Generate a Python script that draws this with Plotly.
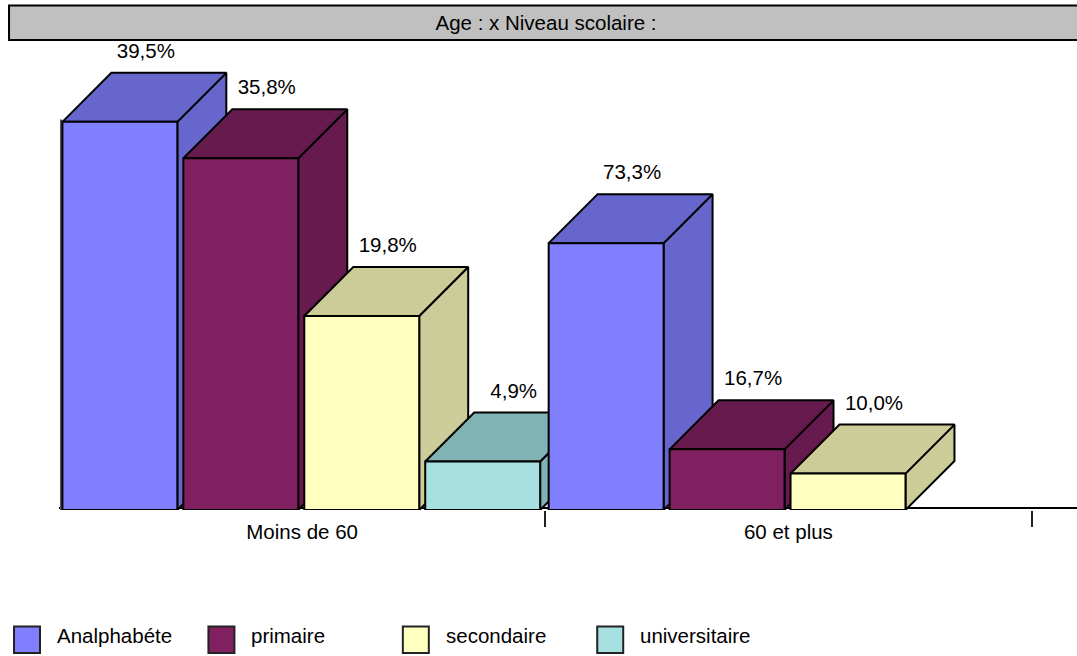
import plotly.graph_objects as go

W, H = 1077, 656

# Data (bar heights are respondent counts, labels are shares within each age group)
age_groups = ["Moins de 60", "60 et plus"]
levels = ["Analphabéte", "primaire", "secondaire", "universitaire"]
analphabete = [32, 22]
primaire = [29, 5]
secondaire = [16, 3]
universitaire = [4, 0]
analphabete_labels = ["39,5%", "73,3%"]
primaire_labels = ["35,8%", "16,7%"]
secondaire_labels = ["19,8%", "10,0%"]
universitaire_labels = ["4,9%", ""]
title_text = "Age : x Niveau scolaire :"

series = [analphabete, primaire, secondaire, universitaire]
series_labels = [analphabete_labels, primaire_labels, secondaire_labels, universitaire_labels]
front_colors = ["#8080FF", "#802060", "#FFFFC0", "#A6E0E0"]
shade_colors = ["#6666CC", "#661A4D", "#CCCC99", "#80B3B3"]
label_nudge_px = [0, 0, 0, 5]

# Plot geometry in pixels
PL, PB, PT = 58.5, 510.0, 41.0
PX_PER_GROUP = 486.5
PX_PER_COUNT = 12.13
FONT = "Liberation Sans, Arial, sans-serif"
FS = 20.5

x_max = (W - PL) / PX_PER_GROUP
y_max = (PB - PT) / PX_PER_COUNT
dx = 49 / PX_PER_GROUP
dy = 49 / PX_PER_COUNT
pitch = 121 / PX_PER_GROUP
bar_w = 115 / PX_PER_GROUP
start = 3.4 / PX_PER_GROUP


def face(xs, ys, color):
    return go.Scatter(
        x=xs + xs[:1], y=ys + ys[:1], mode="lines", fill="toself", fillcolor=color,
        line=dict(color="black", width=2), hoverinfo="skip", showlegend=False, cliponaxis=False,
    )


traces = []
# Floor line and value-axis line
traces.append(go.Scatter(x=[0, x_max], y=[2 / PX_PER_COUNT] * 2, mode="lines",
                         line=dict(color="black", width=2), hoverinfo="skip",
                         showlegend=False, cliponaxis=False))
traces.append(go.Scatter(x=[2 / PX_PER_GROUP] * 2, y=[0, max(analphabete) + 0.2], mode="lines",
                         line=dict(color="#555555", width=2), hoverinfo="skip",
                         showlegend=False, cliponaxis=False))

lab_x, lab_y, lab_t = [], [], []
for g in range(len(age_groups)):
    for s, vals in enumerate(series):
        v = vals[g]
        if v == 0:
            continue
        x0 = g + start + s * pitch
        x1 = x0 + bar_w
        traces.append(face([x1, x1 + dx, x1 + dx, x1], [0, dy, v + dy, v], shade_colors[s]))
        traces.append(face([x0, x1, x1 + dx, x0 + dx], [v, v, v + dy, v + dy], shade_colors[s]))
        traces.append(face([x0, x1, x1, x0], [0, 0, v, v], front_colors[s]))
        lab_x.append((x0 + x1) / 2 + (26 + label_nudge_px[s]) / PX_PER_GROUP)
        lab_y.append(v + dy + 20 / PX_PER_COUNT)
        lab_t.append(series_labels[s][g])

traces.append(go.Scatter(x=lab_x, y=lab_y, text=lab_t, mode="text", textposition="middle center",
                         textfont=dict(family=FONT, size=FS, color="black"),
                         hoverinfo="skip", showlegend=False, cliponaxis=False))

fig = go.Figure(traces)

shapes = [dict(type="rect", xref="paper", yref="paper", layer="below",
               x0=(8.5 - PL) / (W - PL), x1=1.01,
               y0=(PB - 40) / (PB - PT), y1=(PB - 5.5) / (PB - PT),
               fillcolor="#C0C0C0", line=dict(color="black", width=2))]
annotations = []
for i, name in enumerate(levels):
    sx = 13.5 + i * 194.5
    shapes.append(dict(type="rect", xref="paper", yref="paper",
                       x0=(sx - PL) / (W - PL), x1=(sx + 26 - PL) / (W - PL),
                       y0=(PB - 653) / (PB - PT), y1=(PB - 626.5) / (PB - PT),
                       fillcolor=front_colors[i], line=dict(color="#222222", width=2)))
    annotations.append(dict(xref="paper", yref="paper", x=(sx + 41 - PL) / (W - PL),
                            y=(PB - 635) / (PB - PT), text=name, showarrow=False,
                            xanchor="left", yanchor="middle",
                            font=dict(family=FONT, size=FS, color="black")))

fig.update_layout(
    width=W, height=H, autosize=False,
    margin=dict(l=PL, r=0, t=PT, b=H - PB, pad=0),
    paper_bgcolor="white", plot_bgcolor="white", showlegend=False,
    title=dict(text=title_text, x=546 / W, xanchor="center", xref="container",
               y=1 - 23 / H, yanchor="middle", yref="container",
               font=dict(family=FONT, size=FS, color="black")),
    xaxis=dict(range=[0, x_max], showgrid=False, zeroline=False, showline=False,
               tickmode="array", tickvals=[0.5, 1.5], ticktext=age_groups, ticks="",
               ticklabelstandoff=7,
               tickfont=dict(family=FONT, size=FS, color="black"),
               minor=dict(tickmode="array", tickvals=[1, 2], ticks="outside", ticklen=16,
                          tickwidth=2, tickcolor="#222222", showgrid=False)),
    yaxis=dict(range=[0, y_max], showgrid=False, zeroline=False, showline=False,
               showticklabels=False, ticks=""),
    shapes=shapes, annotations=annotations,
)

fig.write_html("out.html", config={"displayModeBar": False},
               post_script="document.body.style.margin='0';document.documentElement.style.overflow='hidden';")
